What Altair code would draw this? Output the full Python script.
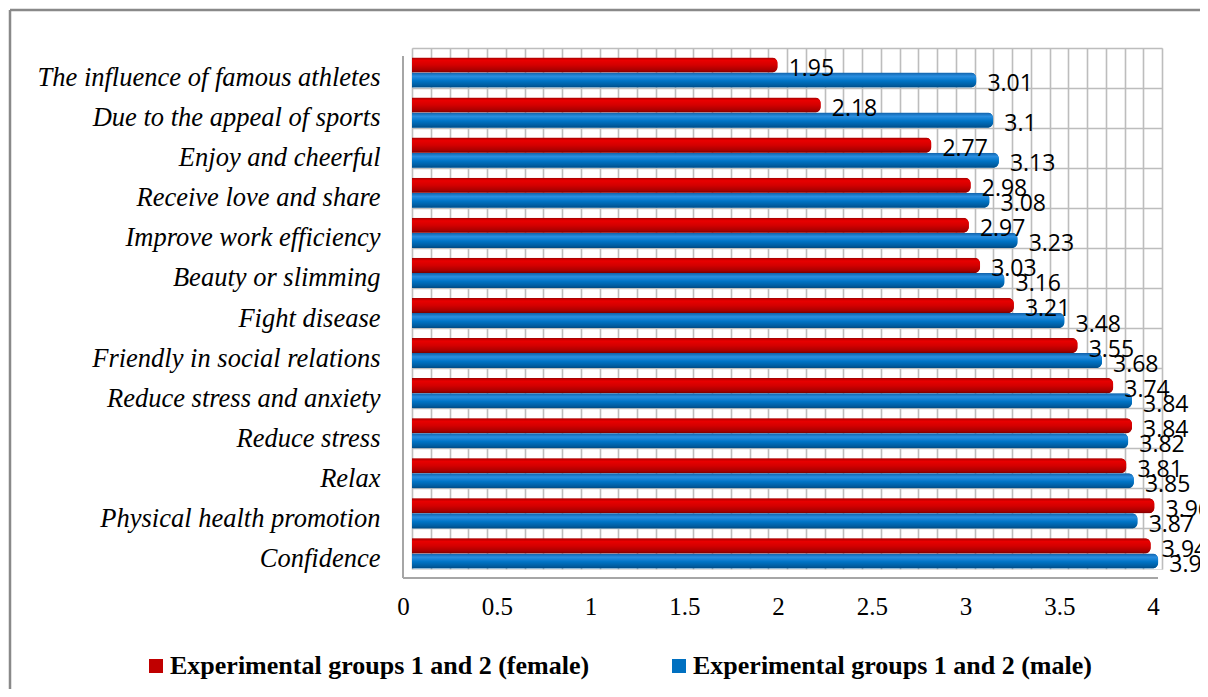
import altair as alt
import pandas as pd

categories = [
    "The influence of famous athletes",
    "Due to the appeal of sports",
    "Enjoy and cheerful",
    "Receive love and share",
    "Improve work efficiency",
    "Beauty or slimming",
    "Fight disease",
    "Friendly in social relations",
    "Reduce stress and anxiety",
    "Reduce stress",
    "Relax",
    "Physical health promotion",
    "Confidence",
]
female = [1.95, 2.18, 2.77, 2.98, 2.97, 3.03, 3.21, 3.55, 3.74, 3.84, 3.81, 3.96, 3.94]
male = [3.01, 3.1, 3.13, 3.08, 3.23, 3.16, 3.48, 3.68, 3.84, 3.82, 3.85, 3.87, 3.98]
series_names = ["Experimental groups 1 and 2 (female)", "Experimental groups 1 and 2 (male)"]
series_colors = ["#c00000", "#0070c0"]
x_grid = [round(i * 0.1, 1) for i in range(41)]

rows = []
for c, f, m in zip(categories, female, male):
    rows.append({"category": c, "series": series_names[0], "value": f})
    rows.append({"category": c, "series": series_names[1], "value": m})
df = pd.DataFrame(rows)

GRID = "#bdbdbd"
SERIF = "Liberation Serif, Times New Roman, serif"

x_enc = alt.X(
    "value:Q",
    scale=alt.Scale(domain=[0, 4], nice=False, zero=True),
    axis=alt.Axis(
        values=x_grid, grid=True, gridColor=GRID, gridWidth=1.6,
        ticks=False, domain=False,
        labelExpr="round(datum.value*10) % 5 == 0 ? format(datum.value, '.1~f') : ''",
        labelFont=SERIF, labelFontSize=25, labelColor="#000",
        labelPadding=25, labelOffset=-9, labelFlush=False, labelOverlap=False,
        title=None,
    ),
)
y_enc = alt.Y(
    "category:N",
    sort=categories,
    scale=alt.Scale(paddingInner=0, paddingOuter=0),
    axis=alt.Axis(
        grid=True, bandPosition=0, gridColor=GRID, gridWidth=1.6,
        ticks=False, domain=False,
        labelFont=SERIF, labelFontStyle="italic", labelFontSize=26.5,
        labelColor="#000", labelPadding=32, labelOffset=10, labelLimit=600,
        title=None,
    ),
)
yoff = alt.YOffset(
    "series:N", sort=series_names,
    scale=alt.Scale(paddingInner=0, paddingOuter=0.33, align=0.95),
)

base = alt.Chart(df)

bars = base.mark_bar(cornerRadiusEnd=6).encode(
    x=x_enc, y=y_enc, yOffset=yoff,
    color=alt.Color(
        "series:N", sort=series_names,
        scale=alt.Scale(domain=series_names, range=series_colors),
        legend=alt.Legend(
            orient="none", legendX=-269, legendY=605, direction="horizontal",
            title=None, symbolType="square", symbolSize=196, symbolStrokeWidth=0,
            labelFont=SERIF, labelFontWeight="bold", labelFontSize=26,
            labelColor="#000", labelLimit=700, columnPadding=76, labelOffset=1,
            padding=0,
        ),
    ),
)

red_grad = alt.Gradient(
    gradient="linear", x1=0, x2=0, y1=0, y2=1,
    stops=[
        alt.GradientStop(offset=0, color="#a00000"),
        alt.GradientStop(offset=0.2, color="#e80000"),
        alt.GradientStop(offset=0.5, color="#d40000"),
        alt.GradientStop(offset=0.85, color="#a80000"),
        alt.GradientStop(offset=1, color="#7a0000"),
    ],
)
blue_grad = alt.Gradient(
    gradient="linear", x1=0, x2=0, y1=0, y2=1,
    stops=[
        alt.GradientStop(offset=0, color="#1060a8"),
        alt.GradientStop(offset=0.25, color="#2a8ee0"),
        alt.GradientStop(offset=0.55, color="#0074c6"),
        alt.GradientStop(offset=0.85, color="#005ca0"),
        alt.GradientStop(offset=1, color="#004a82"),
    ],
)

red_bars = base.transform_filter(alt.datum.series == series_names[0]).mark_bar(
    color=red_grad, cornerRadiusEnd=6
).encode(x=x_enc, y=y_enc, yOffset=yoff)
blue_bars = base.transform_filter(alt.datum.series == series_names[1]).mark_bar(
    color=blue_grad, cornerRadiusEnd=6
).encode(x=x_enc, y=y_enc, yOffset=yoff)

labels = base.mark_text(
    align="left", baseline="middle", dx=11, dy=4,
    font="Open Sans", fontSize=23, color="#000",
).encode(x=x_enc, y=y_enc, yOffset=yoff, text=alt.Text("value:Q", format=".2~f"))

dummy = alt.Chart(pd.DataFrame({"a": [0]}))
frame_top = dummy.mark_rule(color="#898989", strokeWidth=2.5).encode(
    x=alt.value(-402), x2=alt.value(800), y=alt.value(-38)
)
frame_left = dummy.mark_rule(color="#898989", strokeWidth=2.5).encode(
    x=alt.value(-402), y=alt.value(-38), y2=alt.value(650)
)
wall_front = dummy.mark_rule(color="#a6a6a6", strokeWidth=2).encode(
    x=alt.value(-9), y=alt.value(8), y2=alt.value(530)
)
floor_front = dummy.mark_rule(color="#a6a6a6", strokeWidth=2).encode(
    x=alt.value(-9), x2=alt.value(746), y=alt.value(530)
)

chart = alt.layer(
    bars, red_bars, blue_bars, labels, frame_top, frame_left, wall_front, floor_front
).properties(
    width=750, height=521,
    autosize=alt.AutoSizeParams(type="none"),
    padding={"left": 404, "top": 40, "right": 38, "bottom": 120},
).configure_view(stroke="#a6a6a6", strokeWidth=2).configure(background="white")

chart.save("out.html", embed_options={"renderer": "svg", "actions": False})
